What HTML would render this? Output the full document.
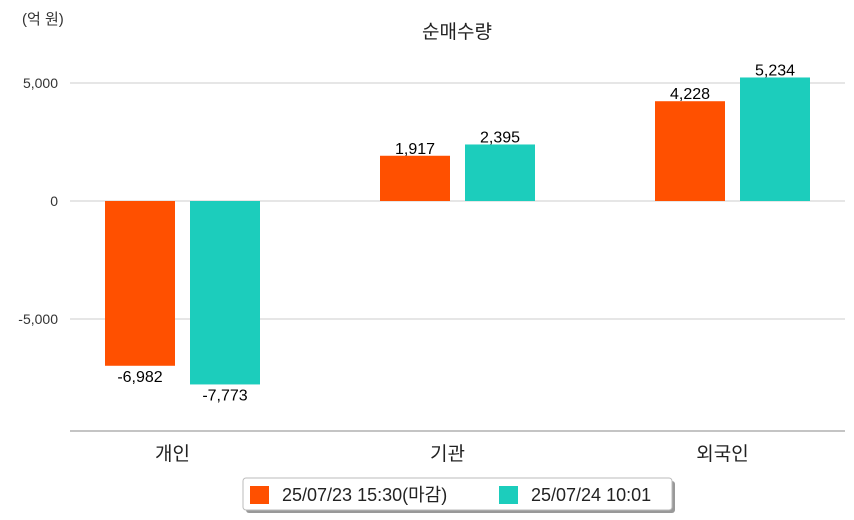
<!DOCTYPE html>
<html><head><meta charset="utf-8"><style>
body{margin:0;background:#fff;}
svg{display:block;font-family:"Liberation Sans","Noto Sans CJK KR",sans-serif;}
</style></head><body>
<svg id="chart" width="854" height="520">
<text x="22" y="24" font-size="15" fill="#333">(억 원)</text>
<text x="457" y="38" font-size="19" fill="#222" text-anchor="middle">순매수량</text>
<g id="grid"></g><g id="bars"></g>
<line x1="70" x2="845" y1="431" y2="431" stroke="#888" stroke-width="1"/>
<g>
<rect x="246" y="481" width="429" height="32" fill="#999" rx="3"/>
<rect x="243" y="478" width="429" height="32" fill="#fff" stroke="#bbb" rx="3"/>
<rect x="250" y="486" width="19" height="18" fill="#ff5000"/>
<text x="282" y="501" font-size="18" fill="#222">25/07/23 15:30(마감)</text>
<rect x="499" y="486" width="19" height="18" fill="#1ccdbc"/>
<text x="531" y="501" font-size="18" fill="#222">25/07/24 10:01</text>
</g>
</svg>
<script>
const categories=["개인","기관","외국인"];
const series1=[-6982,1917,4228];
const series2=[-7773,2395,5234];
const labels1=["-6,982","1,917","4,228"];
const labels2=["-7,773","2,395","5,234"];
const ticks=[5000,0,-5000];
const tickLabels=["5,000","0","-5,000"];
const NS="http://www.w3.org/2000/svg";
function y(v){return 201-v*118/5000;}
function gc(i){return 182.5+i*275;}
function mk(t,a,p){const e=document.createElementNS(NS,t);for(const k in a)e.setAttribute(k,a[k]);p.appendChild(e);return e;}
const grid=document.getElementById('grid'),bars=document.getElementById('bars');
ticks.forEach((t,i)=>{
 const l=mk('line',{x1:70,x2:845,y1:y(t),y2:y(t),stroke:'#ccc'},grid);
 
 
 const tx=mk('text',{x:58,y:y(t)+5,'font-size':14,fill:'#333','text-anchor':'end'},grid);
 tx.textContent=tickLabels[i];
 
 
});
categories.forEach((c,i)=>{
 [[series1,labels1,'#ff5000',-77.5],[series2,labels2,'#1ccdbc',7.5]].forEach(([s,lb,col,off],j)=>{
  const v=s[i],x=gc(i)+off,top=Math.min(y(v),y(0)),h=Math.abs(y(v)-y(0));
  const r=mk('rect',{x:x,y:top,width:70,height:h,fill:col},bars);
  
  
  const t=mk('text',{x:x+35,y:v>=0?y(v)-2:y(v)+16,'font-size':16,fill:'#000','text-anchor':'middle'},bars);
  t.textContent=lb[i];
  
  
 });
 const t=mk('text',{x:gc(i)-10,y:460,'font-size':19,fill:'#222','text-anchor':'middle'},bars);
 t.textContent=c;
 
 
});
</script>
</body></html>
